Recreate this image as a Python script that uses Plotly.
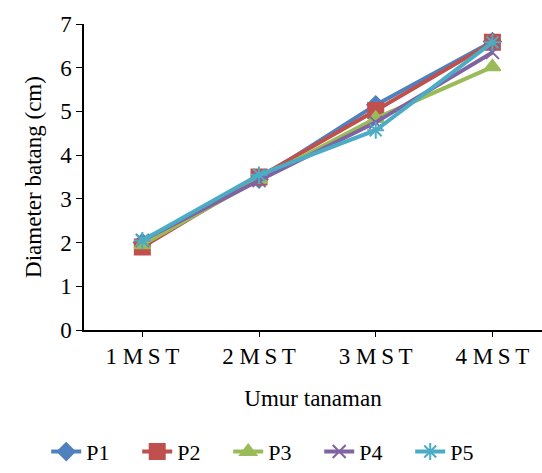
import plotly.graph_objects as go

categories = ["1 M\u2009S\u2009T", "2 M\u2009S\u2009T", "3 M\u2009S\u2009T", "4 M\u2009S\u2009T"]
series_names = ["P1", "P2", "P3", "P4", "P5"]
p1 = [2.00, 3.45, 5.15, 6.60]
p2 = [1.90, 3.50, 5.02, 6.58]
p3 = [1.95, 3.45, 4.84, 6.02]
p4 = [2.05, 3.42, 4.75, 6.35]
p5 = [2.05, 3.55, 4.57, 6.58]
values = [p1, p2, p3, p4, p5]
colors = ["#4F81BD", "#C0504D", "#9BBB59", "#8064A2", "#4BACC6"]
symbols = ["diamond", "square", "triangle-up", "x-thin-open", "asterisk-open"]
sizes = [13, 15, 14, 13, 14]

font = "Liberation Serif, Times New Roman, serif"
fig = go.Figure()
for name, vals, c, s, sz in zip(series_names, values, colors, symbols, sizes):
    fig.add_trace(go.Scatter(
        x=list(range(len(categories))), y=vals, name=name, mode="lines+markers",
        line=dict(color=c, width=4),
        marker=dict(symbol=s, size=sz, color=c, line=dict(color=c, width=2)),
    ))

fig.update_layout(
    width=542, height=473,
    margin=dict(l=84, r=0, t=24, b=143),
    paper_bgcolor="white", plot_bgcolor="white",
    font=dict(family=font, size=23, color="black"),
    showlegend=True,
    legend=dict(orientation="h", x=0.505, xref="container", xanchor="center",
                y=0.045, yref="container", yanchor="middle",
                font=dict(size=22), itemwidth=30, traceorder="normal",
                entrywidth=46, entrywidthmode="pixels", bgcolor="rgba(0,0,0,0)"),
    xaxis=dict(
        tickmode="array", tickvals=list(range(len(categories))), ticktext=categories,
        range=[-0.5, 3.425], showline=True, linecolor="black", linewidth=1.5,
        ticks="outside", ticklen=5, tickcolor="black", showgrid=False, zeroline=False,
        title=dict(text="Umur tanaman", font=dict(size=23), standoff=22),
    ),
    yaxis=dict(
        range=[0, 7], dtick=1, showline=True, linecolor="black", linewidth=1.5,
        ticks="outside", ticklen=6, tickcolor="black", showgrid=False, zeroline=False,
        title=dict(text="Diameter batang (cm)", font=dict(size=23), standoff=12),
    ),
)
fig.write_html("out.html")
